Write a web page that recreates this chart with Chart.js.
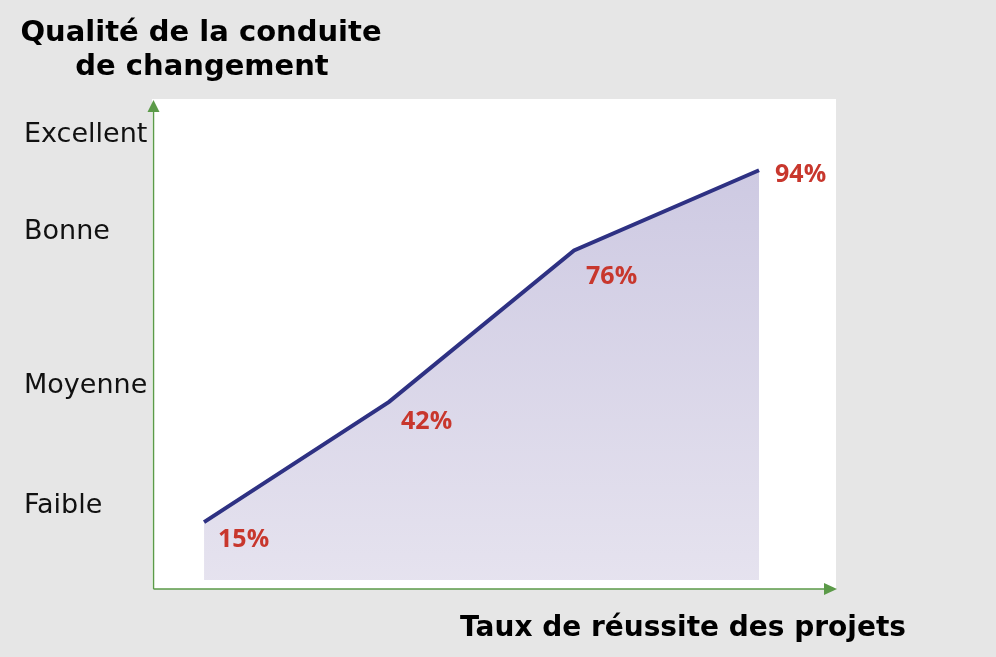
<!DOCTYPE html>
<html><head><meta charset="utf-8">
<script src="https://cdn.jsdelivr.net/npm/chart.js@4.4.1/dist/chart.umd.min.js"></script>
<style>html,body{margin:0;padding:0;background:#e6e6e6;overflow:hidden}#wrap{width:996px;height:657px;position:relative}</style>
</head><body><div id="wrap"><canvas id="c" width="996" height="657"></canvas></div>
<script>
// ---- data ----
const projectSteps = [1, 2, 3, 4];
const successRates = [15, 42, 76, 94];
const rateLabels = ['15%', '42%', '76%', '94%'];
const qualityTickValues = [18.6, 45.6, 80.2, 102];
const qualityTickLabels = ['Faible', 'Moyenne', 'Bonne', 'Excellent'];
const titleLines = ['Qualité de la conduite', 'de changement'];
const xAxisTitle = 'Taux de réussite des projets';

const points = projectSteps.map((x, i) => ({ x: x, y: successRates[i] }));

const decorPlugin = {
  id: 'decor',
  beforeDraw(chart) {
    const { ctx, chartArea: a } = chart;
    ctx.save();
    ctx.fillStyle = '#e6e6e6';
    ctx.fillRect(0, 0, chart.width, chart.height);
    ctx.fillStyle = '#ffffff';
    ctx.fillRect(a.left - 1, a.top, a.right - a.left + 1, a.bottom - a.top);
    ctx.restore();
  },
  afterDatasetsDraw(chart, args, opts) {
    const { ctx } = chart;
    const meta = chart.getDatasetMeta(0);
    ctx.save();
    ctx.fillStyle = '#c8372d';
    ctx.font = 'bold 25px "Open Sans"';
    ctx.textAlign = 'left';
    ctx.textBaseline = 'alphabetic';
    meta.data.forEach((pt, i) => {
      const off = opts.offsets[i];
      ctx.fillText(rateLabels[i], pt.x + off[0], pt.y + off[1]);
    });
    ctx.restore();
  },
  afterDraw(chart) {
    const { ctx, chartArea: a } = chart;
    ctx.save();
    const g = '#5b9a48';
    ctx.strokeStyle = g;
    ctx.fillStyle = g;
    ctx.lineWidth = 1.5;
    const ax = a.left + 0.5, ay = a.bottom;
    ctx.beginPath();
    ctx.moveTo(ax, ay);
    ctx.lineTo(ax, a.top + 10);
    ctx.moveTo(ax, ay);
    ctx.lineTo(a.right - 10, ay);
    ctx.stroke();
    // arrow heads
    ctx.beginPath();
    ctx.moveTo(ax, a.top + 1);
    ctx.lineTo(ax - 6, a.top + 13);
    ctx.lineTo(ax + 6, a.top + 13);
    ctx.closePath();
    ctx.fill();
    ctx.beginPath();
    ctx.moveTo(a.right + 1, ay);
    ctx.lineTo(a.right - 12, ay - 6);
    ctx.lineTo(a.right - 12, ay + 6);
    ctx.closePath();
    ctx.fill();
    // titles
    ctx.fillStyle = '#000000';
    ctx.textAlign = 'center';
    ctx.textBaseline = 'alphabetic';
    ctx.font = 'bold 29px "DejaVu Sans"';
    ctx.fillText(titleLines[0], 201, 41);
    ctx.fillText(titleLines[1], 202, 75);
    ctx.font = 'bold 28px "DejaVu Sans"';
    ctx.fillText(xAxisTitle, 683, 636);
    ctx.restore();
  }
};

new Chart(document.getElementById('c'), {
  type: 'line',
  data: {
    datasets: [{
      data: points,
      borderColor: '#2e3183',
      borderWidth: 4,
      pointRadius: 0,
      tension: 0,
      fill: { value: 2 },
      backgroundColor: (ctx) => {
        const ch = ctx.chart;
        const a = ch.chartArea;
        if (!a) return '#d9d5e8';
        const gr = ch.ctx.createLinearGradient(0, a.top + 60, 0, a.bottom);
        gr.addColorStop(0, '#cdc9e2');
        gr.addColorStop(1, '#e6e3ef');
        return gr;
      }
    }]
  },
  options: {
    responsive: false,
    animation: false,
    devicePixelRatio: 1,
    layout: { padding: { left: 24, top: 99, right: 160, bottom: 68 } },
    plugins: {
      legend: { display: false },
      tooltip: { enabled: false },
      decor: { offsets: [[14, 25], [12, 27], [12, 34], [16, 12]] }
    },
    scales: {
      x: {
        type: 'linear',
        display: false,
        min: 0.724,
        max: 4.416
      },
      y: {
        type: 'linear',
        min: 0,
        max: 110,
        grid: { display: false, drawTicks: false },
        border: { display: false },
        afterBuildTicks: (scale) => {
          scale.ticks = qualityTickValues.map(v => ({ value: v }));
        },
        afterFit: (scale) => { scale.width = 129; },
        ticks: {
          crossAlign: 'far',
          padding: 0,
          color: '#111111',
          font: { family: '"DejaVu Sans"', size: 27, weight: 'normal' },
          callback: (v, i) => qualityTickLabels[i]
        }
      }
    }
  },
  plugins: [decorPlugin]
});
</script>
</body></html>
